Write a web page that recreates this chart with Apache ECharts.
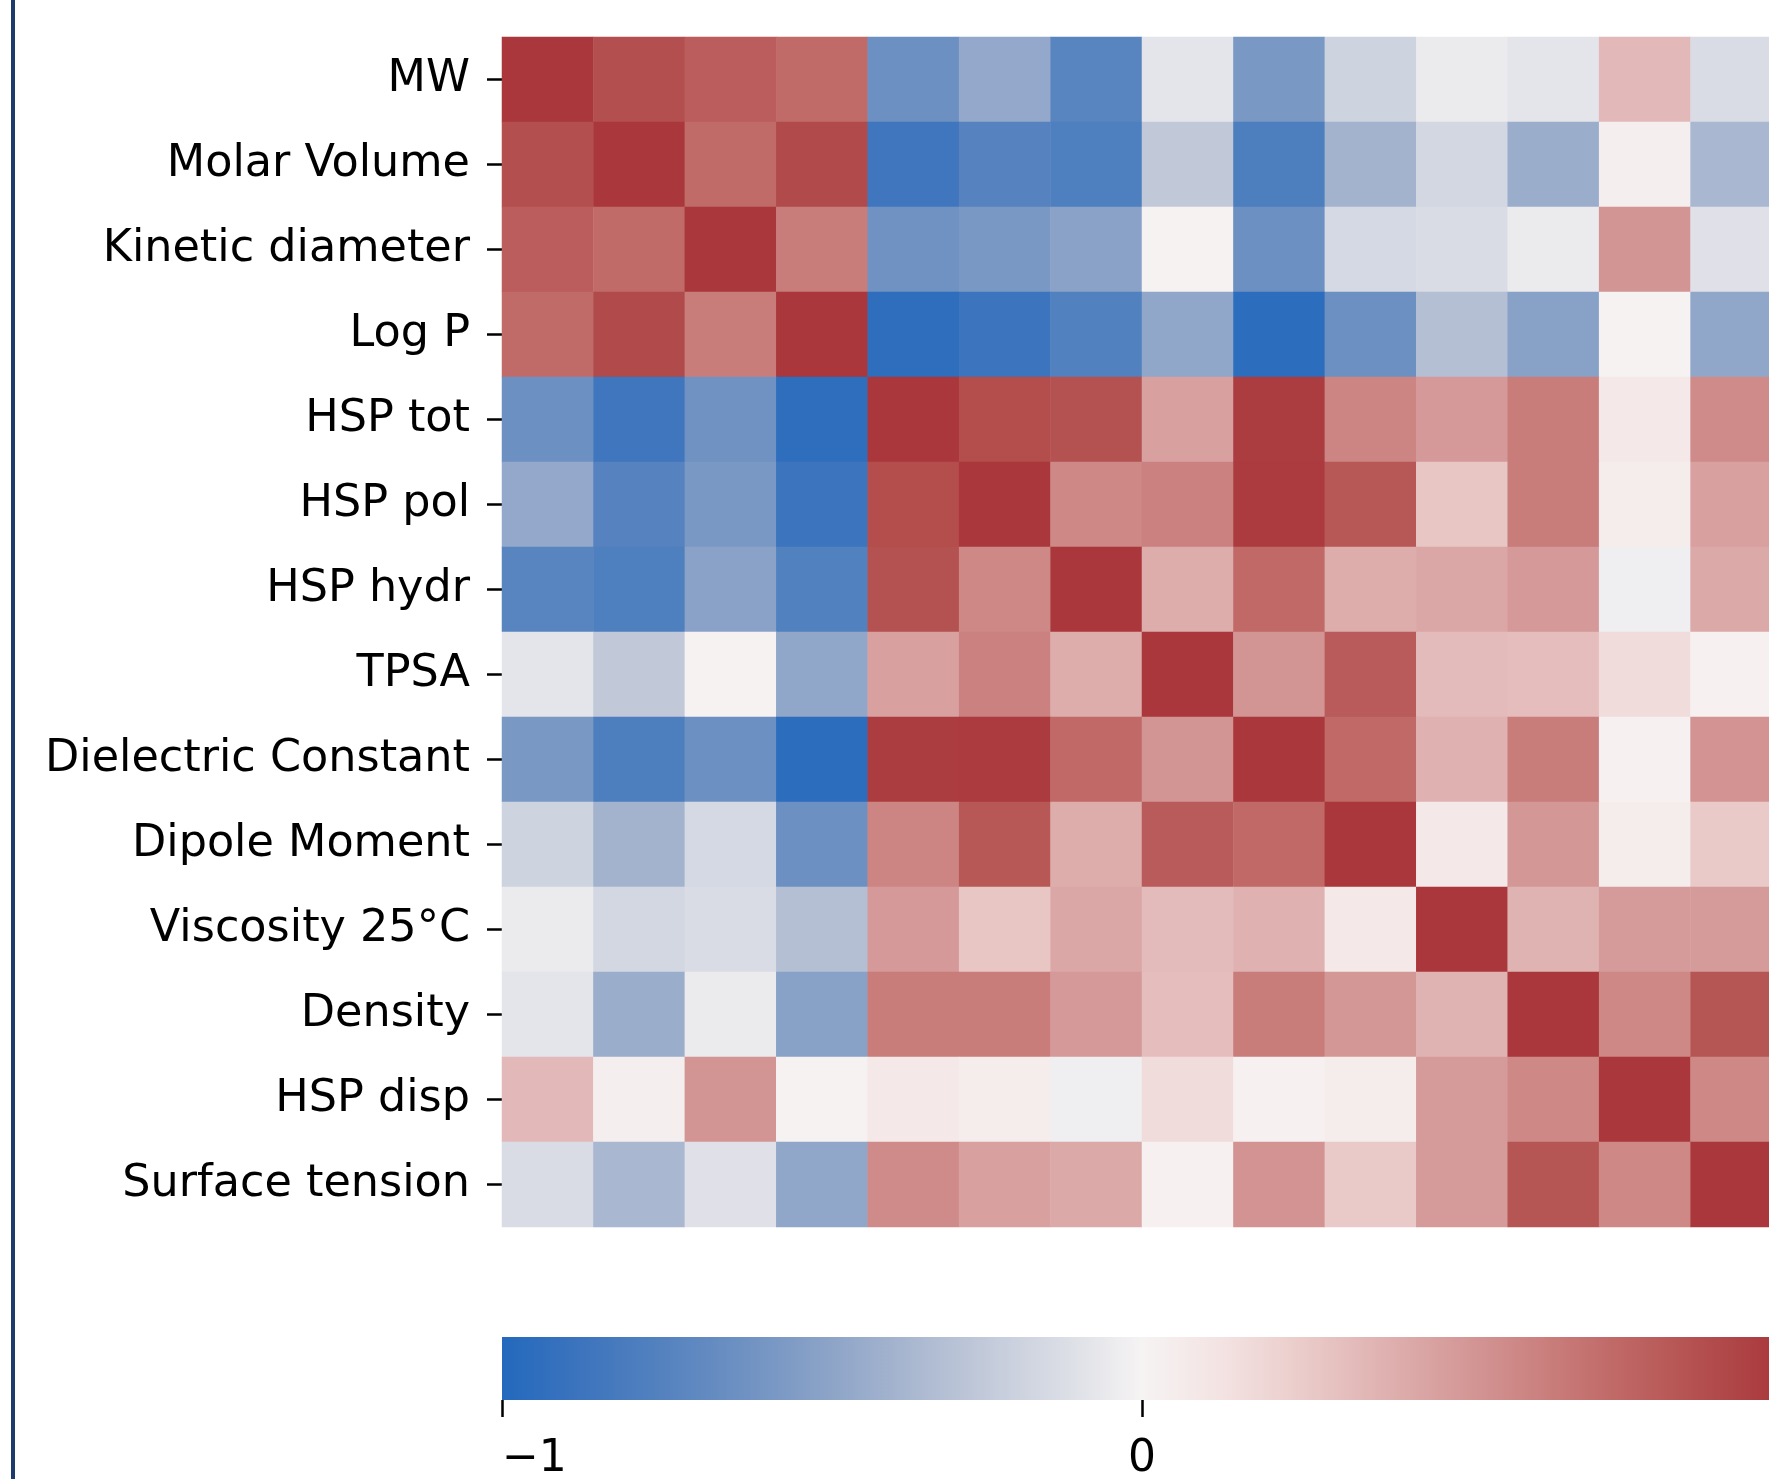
<!DOCTYPE html>
<html>
<head>
<meta charset="UTF-8">
<title>Correlation heatmap</title>
<script src="https://cdn.jsdelivr.net/npm/echarts@6/dist/echarts.min.js"></script>
<style type="text/css">
  * { margin: 0px; padding: 0px; }
  body { background: #fff; }
  #container { width: 1769px; height: 1479px; }
</style>
</head>
<body>
<div id="container"></div>
<script>
// variable names, top to bottom (same order on the columns)
var labels = ['MW', 'Molar Volume', 'Kinetic diameter', 'Log P', 'HSP tot', 'HSP pol', 'HSP hydr',
  'TPSA', 'Dielectric Constant', 'Dipole Moment', 'Viscosity 25°C', 'Density', 'HSP disp', 'Surface tension'];

// correlation matrix (row = label above)
var corr = [
  [ 1.00,  0.87,  0.80,  0.73, -0.63, -0.46, -0.73, -0.08, -0.57, -0.19, -0.05, -0.08,  0.34, -0.13],
  [ 0.87,  1.00,  0.73,  0.90, -0.86, -0.74, -0.78, -0.25, -0.79, -0.39, -0.16, -0.43,  0.04, -0.36],
  [ 0.80,  0.73,  1.00,  0.64, -0.62, -0.57, -0.50,  0.01, -0.63, -0.15, -0.13, -0.05,  0.52, -0.10],
  [ 0.73,  0.90,  0.64,  1.00, -0.94, -0.88, -0.76, -0.47, -0.95, -0.63, -0.31, -0.51,  0.01, -0.47],
  [-0.63, -0.86, -0.62, -0.94,  1.00,  0.88,  0.86,  0.46,  0.97,  0.60,  0.50,  0.64,  0.08,  0.57],
  [-0.46, -0.74, -0.57, -0.88,  0.88,  1.00,  0.58,  0.62,  0.98,  0.83,  0.28,  0.64,  0.05,  0.46],
  [-0.73, -0.78, -0.50, -0.76,  0.86,  0.58,  1.00,  0.40,  0.74,  0.40,  0.43,  0.50, -0.03,  0.42],
  [-0.08, -0.25,  0.01, -0.47,  0.46,  0.62,  0.40,  1.00,  0.52,  0.81,  0.33,  0.32,  0.16,  0.02],
  [-0.57, -0.79, -0.63, -0.95,  0.97,  0.98,  0.74,  0.52,  1.00,  0.74,  0.38,  0.64,  0.02,  0.53],
  [-0.19, -0.39, -0.15, -0.63,  0.60,  0.83,  0.40,  0.81,  0.74,  1.00,  0.08,  0.51,  0.05,  0.26],
  [-0.05, -0.16, -0.13, -0.31,  0.50,  0.28,  0.43,  0.33,  0.38,  0.08,  1.00,  0.37,  0.49,  0.49],
  [-0.08, -0.43, -0.05, -0.51,  0.64,  0.64,  0.50,  0.32,  0.64,  0.51,  0.37,  1.00,  0.58,  0.84],
  [ 0.34,  0.04,  0.52,  0.01,  0.08,  0.05, -0.03,  0.16,  0.02,  0.05,  0.49,  0.58,  1.00,  0.58],
  [-0.13, -0.36, -0.10, -0.47,  0.57,  0.46,  0.42,  0.02,  0.53,  0.26,  0.49,  0.84,  0.58,  1.00]
];

// colour bar ticks
var barTicks = [-1, 0, 1];

// vlag-like palette, -1 .. 1 in even steps
var palette = ['#2369bd', '#3d74bd', '#5482bf', '#6e91c2', '#8aa2c7', '#a6b5cf', '#c1c9d9', '#dadde5',
  '#f6f3f3', '#f3e3e2', '#eaccca', '#dfb2b1', '#d49998', '#ca807e', '#bf6765', '#b34f4e', '#a9373b'];

var cells = [];
for (var i = 0; i < corr.length; i++) {
  for (var j = 0; j < corr[i].length; j++) {
    cells.push([j, i, corr[i][j]]);
  }
}

var stops = [];
for (var k = 0; k < palette.length; k++) {
  stops.push({ offset: k / (palette.length - 1), color: palette[k] });
}

var font = 'DejaVu Sans';
var myChart = echarts.init(document.getElementById('container'));
myChart.setOption({
  animation: false,
  backgroundColor: '#fff',
  graphic: [{
    type: 'rect', left: 11, top: 0,
    shape: { width: 4, height: 1479 },
    style: { fill: '#1f3b6b' }
  }],
  grid: [
    { left: 502, top: 37, width: 1280, height: 1190, outerBoundsMode: 'none', containLabel: false },
    {
      left: 502, top: 1337, width: 1280, height: 63, outerBoundsMode: 'none', containLabel: false,
      show: true, borderWidth: 0,
      backgroundColor: { type: 'linear', x: 0, y: 0, x2: 1, y2: 0, colorStops: stops }
    }
  ],
  xAxis: [
    { type: 'category', data: labels, gridIndex: 0, show: false },
    {
      type: 'value', gridIndex: 1, min: -1, max: 1, interval: 1, position: 'bottom',
      axisLine: { show: false },
      splitLine: { show: false },
      axisTick: { show: true, length: 17, customValues: barTicks, lineStyle: { color: '#000', width: 2.5 } },
      axisLabel: {
        show: true, customValues: barTicks, margin: 38, fontSize: 44, fontFamily: font, color: '#000',
        showMinLabel: true, showMaxLabel: true, alignMinLabel: 'left',
        formatter: function (v) { return String(v).replace('-', '\u2212'); }
      }
    }
  ],
  yAxis: [
    {
      type: 'category', data: labels, gridIndex: 0, inverse: true,
      axisLine: { show: false },
      splitLine: { show: false },
      axisTick: { show: true, alignWithLabel: true, length: 15, lineStyle: { color: '#000', width: 2.5 } },
      axisLabel: { fontSize: 44.5, fontFamily: font, color: '#000', margin: 32 }
    },
    { type: 'value', gridIndex: 1, show: false, min: 0, max: 1 }
  ],
  visualMap: {
    show: false, min: -1, max: 1, seriesIndex: 0,
    inRange: { color: palette }
  },
  series: [{
    type: 'heatmap',
    xAxisIndex: 0, yAxisIndex: 0,
    data: cells,
    emphasis: { disabled: true }
  }]
});
</script>
</body>
</html>
